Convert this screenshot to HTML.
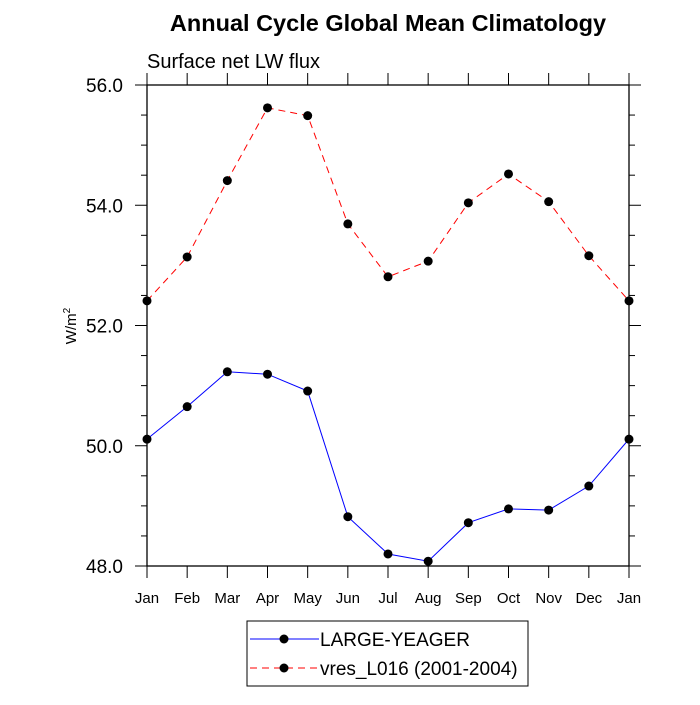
<!DOCTYPE html>
<html><head><meta charset="utf-8"><style>
body{margin:0;background:#fff}
svg text{font-family:"Liberation Sans",sans-serif}
</style></head><body>
<svg id="c" width="700" height="700">
<text x="388" y="31" text-anchor="middle" font-size="23.5" font-weight="bold">Annual Cycle Global Mean Climatology</text>
<text x="147" y="68" font-size="20">Surface net LW flux</text>
<text transform="translate(76,326) rotate(-90)" text-anchor="middle" font-size="15">W/m<tspan dy="-6" font-size="10">2</tspan></text>
<g id="axes"></g>
<g id="series"></g>
<g>
<rect x="247" y="621" width="281" height="65" fill="#fff" stroke="#000" stroke-width="1"/>
<line x1="250" y1="639" x2="319" y2="639" stroke="#00f" stroke-width="1"/>
<circle cx="284" cy="639" r="4.5" fill="#000"/>
<text x="320" y="646" font-size="19">LARGE-YEAGER</text>
<line x1="250" y1="668" x2="319" y2="668" stroke="#f00" stroke-width="1" stroke-dasharray="7,5"/>
<circle cx="284" cy="668" r="4.5" fill="#000"/>
<text x="320" y="675" font-size="19">vres_L016 (2001-2004)</text>
</g>
</svg>
<script>
const months=["Jan","Feb","Mar","Apr","May","Jun","Jul","Aug","Sep","Oct","Nov","Dec","Jan"];
const largeYeager=[50.11,50.65,51.23,51.19,50.91,48.82,48.2,48.08,48.72,48.95,48.93,49.33,50.11];
const vres=[52.41,53.14,54.41,55.62,55.49,53.69,52.81,53.07,54.04,54.52,54.06,53.16,52.41];
const yTicks=[48,50,52,54,56];
const yLabels=["48.0","50.0","52.0","54.0","56.0"];
const X0=147,X1=629,Y0=566,Y1=85,YMIN=48,YMAX=56;
const xs=i=>X0+i*(X1-X0)/(months.length-1);
const ys=v=>Y0-(v-YMIN)*(Y0-Y1)/(YMAX-YMIN);
const NS="http://www.w3.org/2000/svg";
function mk(p,t,a){const e=document.createElementNS(NS,t);for(const k in a)e.setAttribute(k,a[k]);p.appendChild(e);return e;}
const ax=document.getElementById('axes');
const fr=mk(ax,'rect',{x:X0,y:Y1,width:X1-X0,height:Y0-Y1,fill:'none',stroke:'#000','stroke-width':1.3});


months.forEach((m,i)=>{
  const x=xs(i);
  mk(ax,'line',{x1:x,y1:Y0,x2:x,y2:Y0+12,stroke:'#000'});
  mk(ax,'line',{x1:x,y1:Y1,x2:x,y2:Y1-12,stroke:'#000'});
  const t=mk(ax,'text',{x:x,y:Y0+37,'text-anchor':'middle','font-size':15});
  t.textContent=m;
  
  
});
for(let v=YMIN;v<=YMAX+1e-9;v+=0.5){
  const y=ys(v),maj=Math.abs(v-Math.round(v/2)*2)<1e-9,L=maj?12:6;
  mk(ax,'line',{x1:X0,y1:y,x2:X0-L,y2:y,stroke:'#000'});
  mk(ax,'line',{x1:X1,y1:y,x2:X1+L,y2:y,stroke:'#000'});
}
yTicks.forEach((v,i)=>{
  const t=mk(ax,'text',{x:X0-24,y:ys(v)+7,'text-anchor':'end','font-size':19});
  t.textContent=yLabels[i];
  
  
});
const sg=document.getElementById('series');
function draw(vals,color,dash,name){
  const g=mk(sg,'g',{});
  
  
  const a={points:vals.map((v,i)=>xs(i)+','+ys(v)).join(' '),fill:'none',stroke:color,'stroke-width':1};
  if(dash)a['stroke-dasharray']=dash;
  mk(g,'polyline',a);
  vals.forEach((v,i)=>{
    const c=mk(g,'circle',{cx:xs(i),cy:ys(v),r:4.5,fill:'#000'});
    
    
  });
}
draw(vres,'#f00','7,5','series-vres');
draw(largeYeager,'#00f',null,'series-large-yeager');
</script>
</body></html>
